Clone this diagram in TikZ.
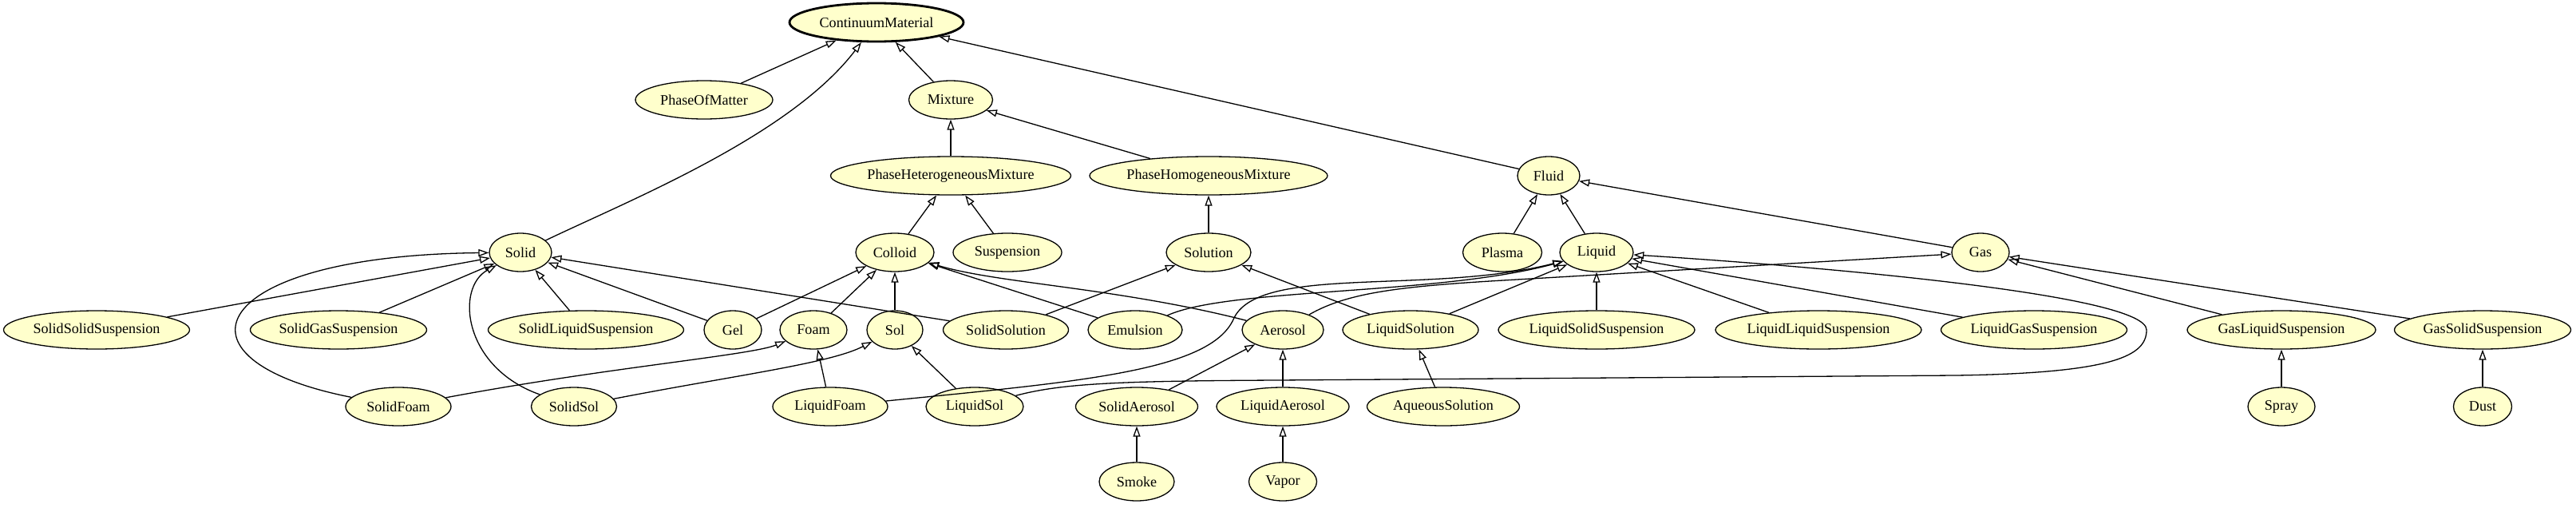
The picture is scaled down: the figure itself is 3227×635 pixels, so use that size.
\documentclass[tikz,border=0pt]{standalone}
\usepackage{fontspec}
\setmainfont{Liberation Serif}
\usetikzlibrary{arrows.meta, shapes.geometric}
\definecolor{nodefill}{RGB}{255,255,204}

\begin{document}
\begin{tikzpicture}[x=1pt, y=-1pt,
	cls/.style={draw, ellipse, fill=nodefill, line width=1.3pt, inner sep=0pt, minimum height=48pt, font=\fontsize{18.1}{20}\selectfont},
	isa/.style={line width=1.3pt, -{Triangle[open, length=13pt, width=9pt]}}]
	\useasboundingbox (0,0) rectangle (3227,635);

	\node[cls, minimum width=218pt, line width=2.8pt] (contmat) at (1098,28) {ContinuumMaterial};

	\node[cls, minimum width=172pt] (phaseofmatter) at (882,125) {PhaseOfMatter};
	\node[cls, minimum width=105pt] (mixture) at (1191,125) {Mixture};

	\node[cls, minimum width=301pt] (phasehetero) at (1191,220) {PhaseHeterogeneousMixture};
	\node[cls, minimum width=298pt] (phasehomo) at (1514,220) {PhaseHomogeneousMixture};
	\node[cls, minimum width=78pt] (fluid) at (1940,220) {Fluid};

	\node[cls, minimum width=78pt] (solid) at (652,316) {Solid};
	\node[cls, minimum width=98pt] (colloid) at (1121,316) {Colloid};
	\node[cls, minimum width=136pt] (suspension) at (1262,316) {Suspension};
	\node[cls, minimum width=106pt] (solution) at (1514,316) {Solution};
	\node[cls, minimum width=99pt] (plasma) at (1882,316) {Plasma};
	\node[cls, minimum width=92pt] (liquid) at (2000,316) {Liquid};
	\node[cls, minimum width=72pt] (gas) at (2481,316) {Gas};

	\node[cls, minimum width=233pt] (solidsolidsusp) at (121,413) {SolidSolidSuspension};
	\node[cls, minimum width=221pt] (solidgassusp) at (424,413) {SolidGasSuspension};
	\node[cls, minimum width=245pt] (solidliquidsusp) at (734,413) {SolidLiquidSuspension};
	\node[cls, minimum width=72pt] (gel) at (918,413) {Gel};
	\node[cls, minimum width=84pt] (foam) at (1019,413) {Foam};
	\node[cls, minimum width=70pt] (sol) at (1121,413) {Sol};
	\node[cls, minimum width=157pt] (solidsolution) at (1260,413) {SolidSolution};
	\node[cls, minimum width=118pt] (emulsion) at (1422,413) {Emulsion};
	\node[cls, minimum width=102pt] (aerosol) at (1607,413) {Aerosol};
	\node[cls, minimum width=170pt] (liquidsolution) at (1767,413) {LiquidSolution};
	\node[cls, minimum width=246pt] (liquidsolidsusp) at (2000,413) {LiquidSolidSuspension};
	\node[cls, minimum width=258pt] (liquidliquidsusp) at (2278,413) {LiquidLiquidSuspension};
	\node[cls, minimum width=233pt] (liquidgassusp) at (2548,413) {LiquidGasSuspension};
	\node[cls, minimum width=236pt] (gasliquidsusp) at (2858,413) {GasLiquidSuspension};
	\node[cls, minimum width=221pt] (gassolidsusp) at (3110,413) {GasSolidSuspension};

	\node[cls, minimum width=132pt] (solidfoam) at (499,509) {SolidFoam};
	\node[cls, minimum width=107pt] (solidsol) at (719,509) {SolidSol};
	\node[cls, minimum width=144pt] (liquidfoam) at (1040,509) {LiquidFoam};
	\node[cls, minimum width=122pt] (liquidsol) at (1221,509) {LiquidSol};
	\node[cls, minimum width=153pt] (solidaerosol) at (1424,509) {SolidAerosol};
	\node[cls, minimum width=166pt] (liquidaerosol) at (1607,509) {LiquidAerosol};
	\node[cls, minimum width=191pt] (aqueoussolution) at (1808,509) {AqueousSolution};
	\node[cls, minimum width=84pt] (spray) at (2858,509) {Spray};
	\node[cls, minimum width=73pt] (dust) at (3110,509) {Dust};

	\node[cls, minimum width=94pt] (smoke) at (1424,603) {Smoke};
	\node[cls, minimum width=85pt] (vapor) at (1607,603) {Vapor};

	\draw[isa] (phaseofmatter) -- (contmat);
	\draw[isa] (solid) .. controls (790,250) and (990,170) .. (contmat);
	\draw[isa] (mixture) -- (contmat);
	\draw[isa] (fluid) -- (contmat);
	\draw[isa] (phasehetero) -- (mixture);
	\draw[isa] (phasehomo) -- (mixture);
	\draw[isa] (colloid) -- (phasehetero);
	\draw[isa] (suspension) -- (phasehetero);
	\draw[isa] (solution) -- (phasehomo);
	\draw[isa] (plasma) -- (fluid);
	\draw[isa] (liquid) -- (fluid);
	\draw[isa] (gas) -- (fluid);

	\draw[isa] (solidsolidsusp) -- (solid);
	\draw[isa] (solidgassusp) -- (solid);
	\draw[isa] (solidliquidsusp) -- (solid);
	\draw[isa] (gel) -- (solid);
	\draw[isa] (solidsolution) -- (solid);
	\draw[isa] (solidfoam) .. controls (200,450) and (260,320) .. (solid);
	\draw[isa] (solidsol) .. controls (580,460) and (570,360) .. (solid);

	\draw[isa] (gel) -- (colloid);
	\draw[isa] (foam) -- (colloid);
	\draw[isa] (sol) -- (colloid);
	\draw[isa] (emulsion) -- (colloid);
	\draw[isa] (aerosol) .. controls (1400,360) and (1250,355) .. (colloid);

	\draw[isa] (solidfoam) .. controls (760,460) and (940,445) .. (foam);
	\draw[isa] (liquidfoam) -- (foam);
	\draw[isa] (solidsol) .. controls (920,470) and (1040,455) .. (sol);
	\draw[isa] (liquidsol) -- (sol);

	\draw[isa] (solidsolution) -- (solution);
	\draw[isa] (liquidsolution) -- (solution);
	\draw[isa] (aqueoussolution) -- (liquidsolution);

	\draw[isa] (liquidsolution) -- (liquid);
	\draw[isa] (emulsion) .. controls (1540,360) and (1800,370) .. (liquid);
	\draw[isa] (liquidfoam) .. controls (1350,478) and (1515,465) .. (1545,400) .. controls (1575,330) and (1790,370) .. (liquid);
	\draw[isa] (liquidsol) .. controls (1330,480) and (1400,477) .. (1600,476) -- (2450,470) .. controls (2650,467) and (2689,445) .. (2689,413) .. controls (2689,370) and (2300,335) .. (liquid);
	\draw[isa] (liquidsolidsusp) -- (liquid);
	\draw[isa] (liquidliquidsusp) -- (liquid);
	\draw[isa] (liquidgassusp) -- (liquid);

	\draw[isa] (aerosol) .. controls (1690,365) and (1760,358) .. (1900,350) -- (gas);
	\draw[isa] (gasliquidsusp) -- (gas);
	\draw[isa] (gassolidsusp) -- (gas);

	\draw[isa] (solidaerosol) -- (aerosol);
	\draw[isa] (liquidaerosol) -- (aerosol);
	\draw[isa] (smoke) -- (solidaerosol);
	\draw[isa] (vapor) -- (liquidaerosol);
	\draw[isa] (spray) -- (gasliquidsusp);
	\draw[isa] (dust) -- (gassolidsusp);
\end{tikzpicture}
\end{document}
